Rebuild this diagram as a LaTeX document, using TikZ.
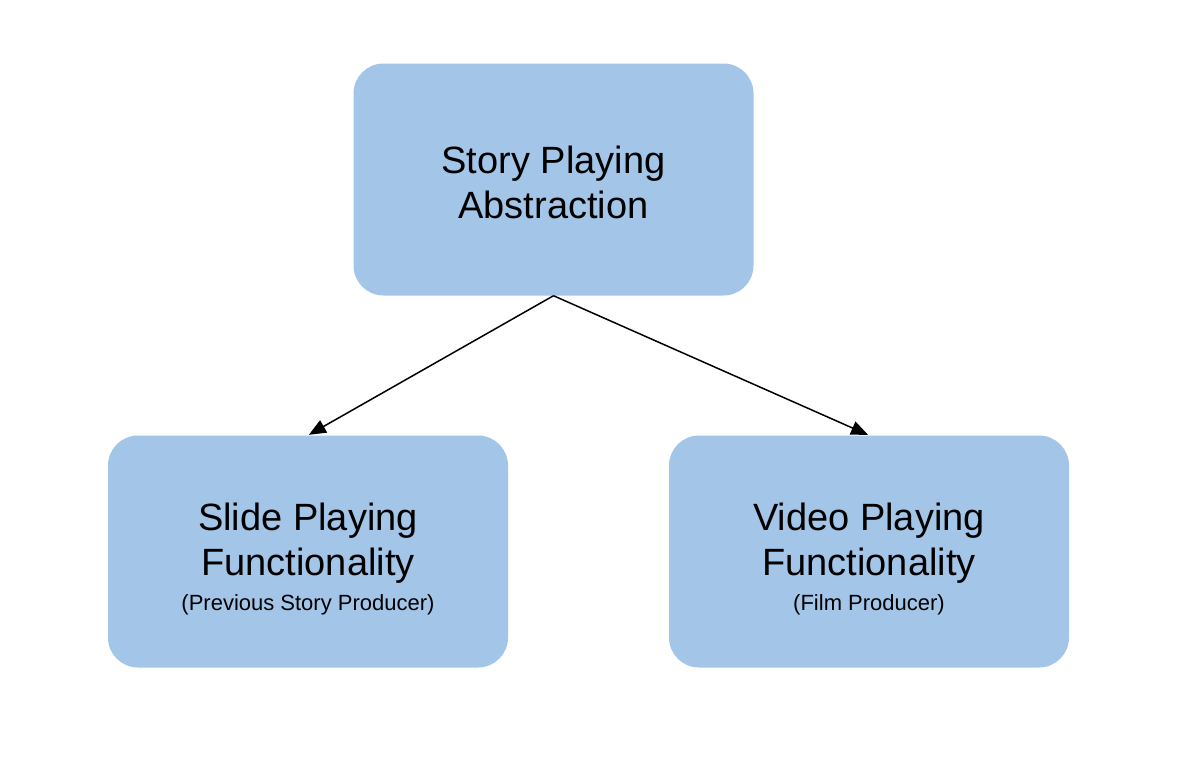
\documentclass[tikz,border=0pt]{standalone}
\usepackage{fontspec}
\setmainfont{Liberation Sans}
\usetikzlibrary{arrows.meta}
\definecolor{boxblue}{HTML}{A3C5E7}
\begin{document}
\begin{tikzpicture}[x=1pt,y=-1pt,
  box/.style={fill=boxblue,draw=none,rounded corners=30pt,minimum width=400pt,minimum height=232pt,inner sep=0pt},
  big/.style={font=\fontsize{38}{45}\selectfont,align=center,inner sep=0pt},
  conn/.style={line width=1.5pt,-{Triangle[length=17pt,width=14pt]},shorten >=1pt},
  small/.style={font=\fontsize{22}{26}\selectfont,inner sep=0pt}]
\useasboundingbox (0,0) rectangle (1196,756);
\node[box] (top) at (553.5,179.5) {};
\node[box] (left) at (308,551.5) {};
\node[box] (right) at (869,551.5) {};
\node[big] (tt) at (553.5,182.5) {Story Playing\\Abstraction};
\node[big] (lt) at (308,543) {Slide Playing\\Functionality};
\node[small] (ls) at (308,605) {(Previous Story Producer)};
\node[big] (rt) at (869,543) {Video Playing\\Functionality};
\node[small] (rs) at (869,605) {(Film Producer)};
\draw[conn] (top.south) -- (left.north);
\draw[conn] (top.south) -- (right.north);
\end{tikzpicture}
\end{document}
